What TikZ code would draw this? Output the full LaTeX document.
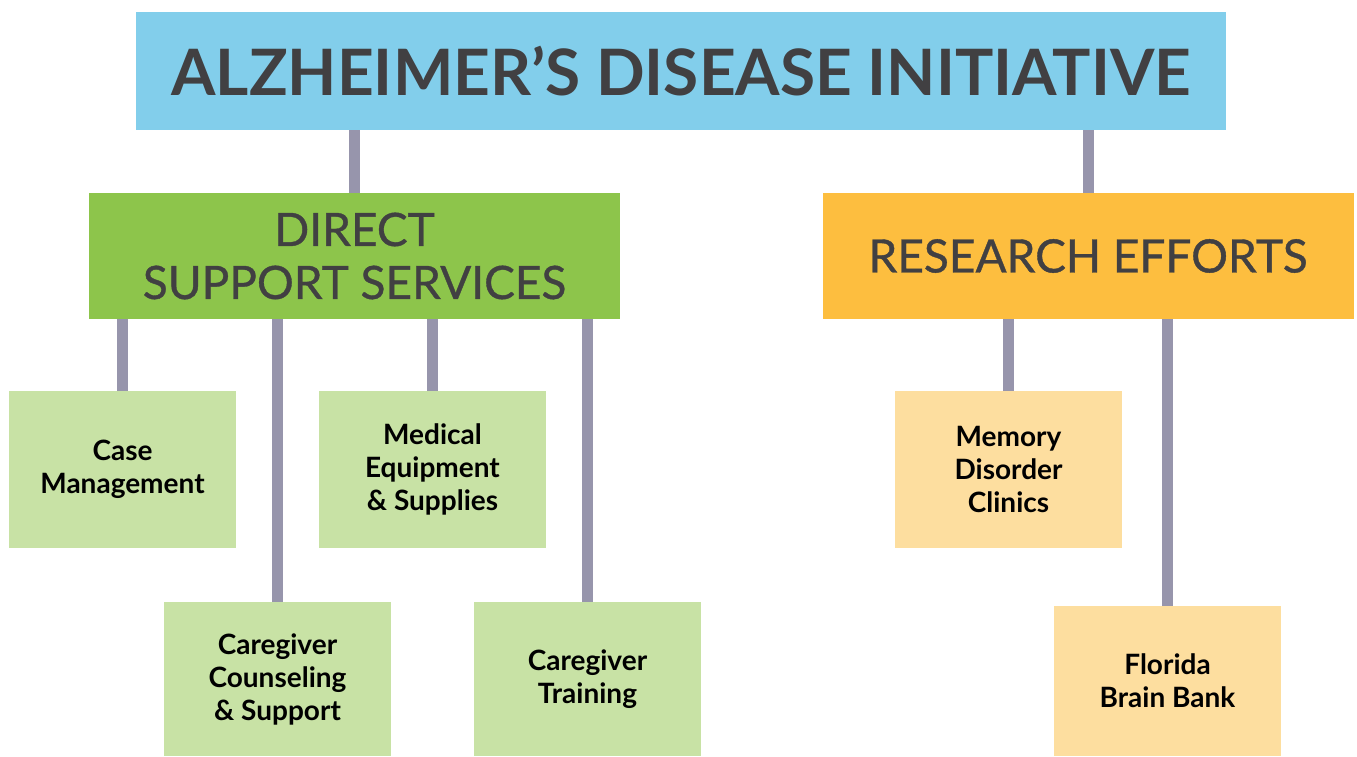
\documentclass[tikz,border=0pt]{standalone}
\usepackage{fontspec}
\setmainfont{Lato}
\newfontfamily\headfont[FakeBold=0.8]{Lato}
\definecolor{titleblue}{HTML}{82CEEB}
\definecolor{dssgreen}{HTML}{8DC54B}
\definecolor{resorange}{HTML}{FDBE3F}
\definecolor{subgreen}{HTML}{C8E2A5}
\definecolor{suborange}{HTML}{FDDE9F}
\definecolor{linkgray}{HTML}{9795AC}
\definecolor{textgray}{HTML}{414042}
\tikzset{
  box/.style={inner sep=0pt, outer sep=0pt, align=center, text=textgray},
  titlebox/.style={box, fill=titleblue, minimum width=1090pt, minimum height=118pt,
    font=\fontsize{64}{70}\selectfont\bfseries},
  headbox/.style={box, minimum width=531pt, minimum height=126pt,
    font=\headfont\fontsize{46}{53}\selectfont},
  subbox/.style={box, text=black, minimum width=227pt, minimum height=157pt,
    font=\fontsize{28}{33}\selectfont\bfseries},
  link/.style={draw=linkgray, line width=11pt, line cap=butt}
}
\begin{document}
\begin{tikzpicture}[x=1pt,y=-1pt]
   \useasboundingbox[fill=white] (0,0) rectangle (1357,757);
   % top level
   \node[titlebox] (adi) at (681,71) {ALZHEIMER’S DISEASE INITIATIVE};
   % branches
   \node[headbox, fill=dssgreen] (dss) at (354.5,256) {DIRECT\\SUPPORT SERVICES};
   \node[headbox, fill=resorange] (res) at (1088,256) {RESEARCH EFFORTS};
   % direct support services
   \node[subbox, fill=subgreen] (case) at (122.5,469.5) {Case\\Management};
   \node[subbox, fill=subgreen] (equip) at (432.5,469.5) {Medical\\Equipment\\\& Supplies};
   \node[subbox, fill=subgreen, minimum height=154pt] (couns) at (277.5,679) {Caregiver\\Counseling\\\& Support};
   \node[subbox, fill=subgreen, minimum height=154pt] (train) at (587.5,679) {Caregiver\\Training};
   % research efforts
   \node[subbox, fill=suborange] (mdc) at (1008.5,469.5) {Memory\\Disorder\\Clinics};
   \node[subbox, fill=suborange, minimum height=150pt] (fbb) at (1167.5,681) {Florida\\Brain Bank};
   % connectors
   \draw[link] (dss.north) -- (dss.north |- adi.south);
   \draw[link] (res.north) -- (res.north |- adi.south);
   \foreach \child in {case,equip,couns,train}
     \draw[link] (\child.north) -- (\child.north |- dss.south);
   \foreach \child in {mdc,fbb}
     \draw[link] (\child.north) -- (\child.north |- res.south);
 \end{tikzpicture}
\end{document}
